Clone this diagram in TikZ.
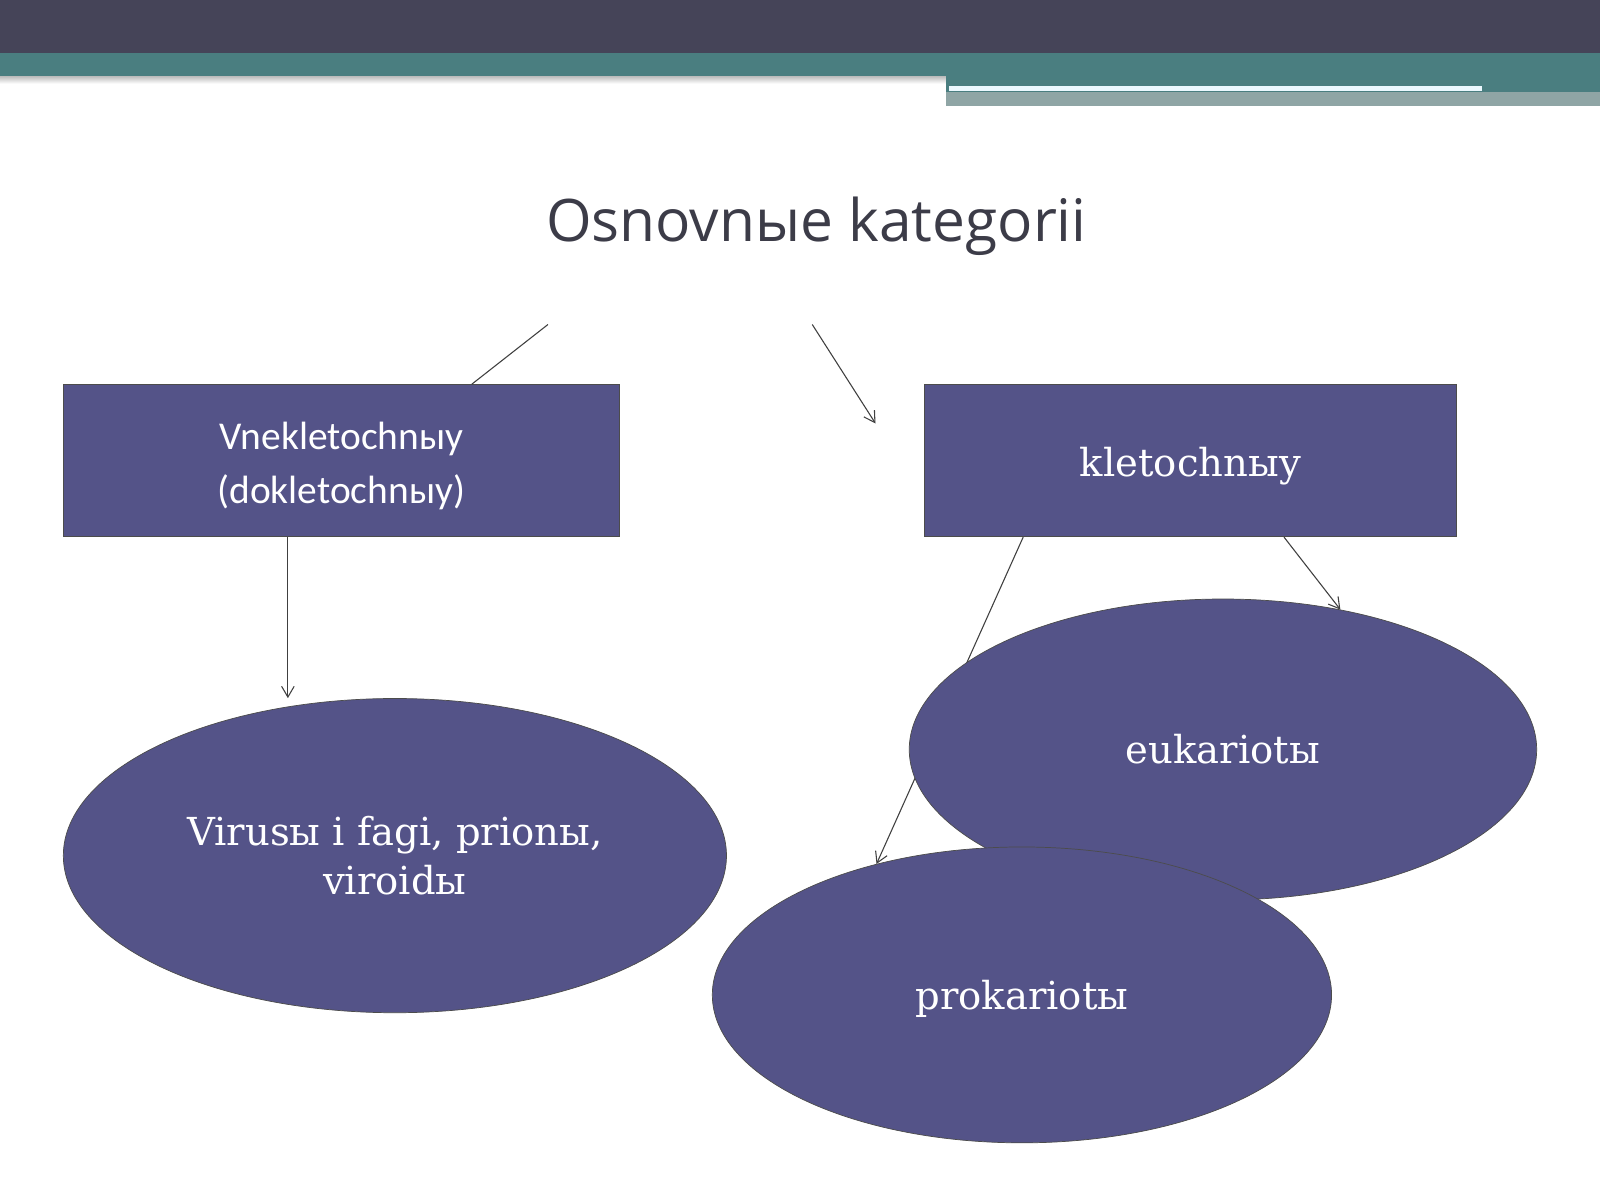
\documentclass[tikz,border=0pt]{standalone}
\usepackage{fontspec}
\setmainfont{DejaVu Serif}
\newfontfamily\titlefont{Open Sans}
\newfontfamily\boxfont{Carlito}
\usetikzlibrary{shapes.geometric,arrows.meta,calc,backgrounds}
\definecolor{topdark}{RGB}{69,68,88}
\definecolor{topteal}{RGB}{74,126,128}
\definecolor{topgrey}{RGB}{143,165,165}
\definecolor{slatefill}{RGB}{84,83,136}
\definecolor{titlegrey}{RGB}{60,60,72}
\pgfdeclarelayer{behind}
\pgfsetlayers{background,behind,main}

\begin{document}
\begin{tikzpicture}[
	x=0.02cm, y=-0.02cm,
	cellbox/.style = {draw=black!70, fill=slatefill, text=white, inner sep=0pt, minimum height=2.98cm},
	kind/.style = {ellipse, draw=black!70, fill=slatefill, text=white, inner sep=0pt,
		font=\fontsize{21.5}{27}\selectfont},
	oneline/.style = {text height=20.5pt, text depth=4.6pt},
	link/.style = {draw=black!75, line width=0.6pt},
	pointer/.style = {link, -{Straight Barb[length=6pt,width=7pt]}}
	]
	\useasboundingbox (0,0) rectangle (1568,1176);
	\begin{pgfonlayer}{background}
		\fill[white] (0,0) rectangle (1568,1176);
		\fill[topdark] (0,0) rectangle (1568,52);
		\fill[topteal] (0,52) rectangle (1568,75);
		\shade[top color=black!25, bottom color=white] (0,75) rectangle (927,82);
		\fill[topteal] (927,75) rectangle (1568,90);
		\fill[topgrey] (927,90) rectangle (1568,104);
		\fill[white!92!cyan] (930,84) rectangle (1452,89);
	\end{pgfonlayer}
	\node [font=\titlefont\fontsize{32.7}{38}\selectfont, text=titlegrey] (title) at (800,222) {Osnovnые kategorii};
	\node [cellbox, minimum width=10.9cm, align=center, text height=52.4pt, text depth=4.6pt,
		font=\boxfont\fontsize{22}{30}\selectfont] (vne) at (334.5,451.5) {Vnekletochnыy\\(dokletochnыy)};
	\node [cellbox, minimum width=10.42cm, text height=23pt, text depth=5pt,
		font=\fontsize{21.5}{26}\selectfont] (klet) at (1166.5,451.5) {kletochnыy};
	\node [kind, minimum width=13cm, minimum height=6.16cm, align=center] (virus) at (387,838.5) {Virusы i fagi, prionы,\\viroidы};
	\node [kind, oneline, minimum width=12.3cm, minimum height=5.9cm] (euk) at (1198.5,734.5) {eukariotы};
	\node [kind, oneline, minimum width=12.14cm, minimum height=5.8cm] (prok) at (1001.5,975) {prokariotы};
	\coordinate (from1) at (537,318);
	\coordinate (from2) at (796,318);
	\coordinate (to2) at (858,415);
	\draw [link] (from1) -- ($(vne.north west)!.734!(vne.north east)$);
	\draw [pointer] (from2) -- (to2);
	\draw [pointer] ($(vne.south west)!.404!(vne.south east)$) coordinate (vdown) -- (vdown |- virus.north);
	\begin{pgfonlayer}{behind}
		\draw [pointer] ($(klet.south west)!.186!(klet.south east)$) -- (prok.138);
	\end{pgfonlayer}
	\draw [pointer] ($(klet.south west)!.676!(klet.south east)$) -- (euk.50);
\end{tikzpicture}
\end{document}
